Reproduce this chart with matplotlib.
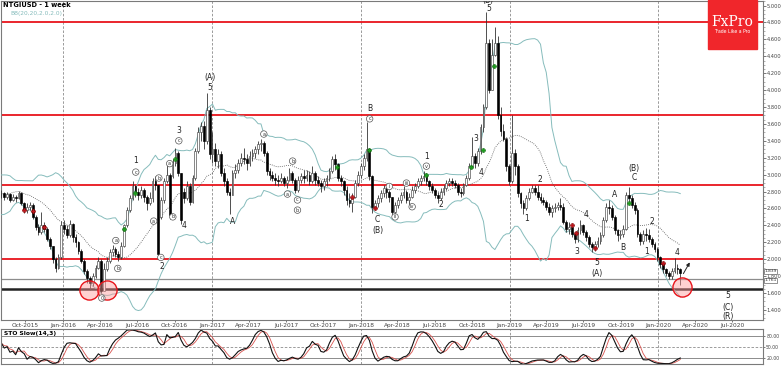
import matplotlib

matplotlib.use("Agg")
import matplotlib.pyplot as plt
import numpy as np
import pandas as pd
from matplotlib.patches import Rectangle

# weekly NTGIUSD candles, first bar = week of 2015-08-03
START = "2015-08-03"

# 19 closes before the first drawn bar, only used to seed the Bollinger bands
PRIOR_CLOSES = [2.70, 2.62, 2.58, 2.50, 2.56, 2.70, 2.86, 2.92, 2.84, 2.80,
                2.90, 2.78, 2.72, 2.80, 2.86, 2.92, 2.78, 2.84, 2.76]

CLOSES = [
    2.78, 2.74, 2.77, 2.70, 2.74, 2.72, 2.78, 2.66, 2.58, 2.62,
    2.64, 2.50, 2.38, 2.32, 2.40, 2.36, 2.24, 2.16, 2.00, 1.90,
    2.02, 2.40, 2.36, 2.28, 2.42, 2.26, 2.20, 2.10, 1.98, 1.86,
    1.78, 1.72, 1.80, 1.90, 1.98, 1.62, 1.88, 1.98, 2.08, 2.12,
    2.06, 2.02, 2.16, 2.40, 2.58, 2.72, 2.86, 2.80, 2.76, 2.82,
    2.74, 2.66, 2.72, 2.92, 2.88, 2.06, 2.70, 2.92, 3.00, 2.52,
    3.14, 3.26, 3.02, 2.46, 2.72, 2.86, 2.68, 2.96, 3.28, 3.50,
    3.58, 3.40, 3.76, 3.24, 3.30, 3.16, 3.24, 3.02, 2.92, 2.80,
    2.76, 3.02, 3.06, 3.14, 3.20, 3.18, 3.14, 3.22, 3.26, 3.30,
    3.36, 3.38, 3.26, 3.04, 3.00, 2.96, 2.94, 2.92, 2.96, 2.90,
    2.94, 3.02, 2.94, 2.82, 2.94, 2.98, 2.96, 3.00, 2.92, 3.02,
    2.94, 2.90, 2.86, 2.92, 2.96, 3.04, 3.18, 3.12, 2.96, 2.92,
    2.82, 2.70, 2.66, 2.74, 2.90, 3.00, 3.10, 3.20, 3.30, 2.98,
    2.62, 2.66, 2.72, 2.78, 2.84, 2.80, 2.74, 2.56, 2.64, 2.70,
    2.76, 2.80, 2.70, 2.74, 2.82, 2.86, 2.92, 2.96, 2.98, 2.92,
    2.86, 2.82, 2.76, 2.72, 2.80, 2.84, 2.90, 2.92, 2.90, 2.88,
    2.80, 2.78, 2.88, 2.96, 3.10, 3.22, 3.14, 3.28, 3.56, 3.80,
    4.56, 4.00, 4.42, 4.56, 3.70, 3.52, 3.42, 3.10, 2.92, 3.26,
    3.10, 2.78, 2.66, 2.60, 2.72, 2.80, 2.84, 2.80, 2.74, 2.70,
    2.68, 2.62, 2.56, 2.60, 2.62, 2.64, 2.62, 2.44, 2.36, 2.38,
    2.30, 2.24, 2.34, 2.40, 2.32, 2.26, 2.18, 2.14, 2.18, 2.22,
    2.28, 2.46, 2.62, 2.60, 2.50, 2.34, 2.28, 2.30, 2.36, 2.76,
    2.72, 2.64, 2.58, 2.30, 2.22, 2.30, 2.28, 2.24, 2.18, 2.12,
    2.02, 1.94, 1.88, 1.84, 1.80, 1.86, 1.90, 1.88, 1.84,
]
HIGHS = [
    2.82, 2.80, 2.80, 2.78, 2.77, 2.76, 2.81, 2.80, 2.68, 2.66,
    2.68, 2.66, 2.52, 2.42, 2.56, 2.44, 2.38, 2.26, 2.16, 2.02,
    2.06, 2.45, 2.46, 2.40, 2.46, 2.43, 2.30, 2.22, 2.12, 2.00,
    1.88, 1.80, 1.84, 1.93, 2.02, 2.00, 1.95, 2.02, 2.12, 2.17,
    2.14, 2.10, 2.20, 2.42, 2.62, 2.76, 2.92, 2.88, 2.84, 2.86,
    2.84, 2.76, 2.80, 2.96, 2.98, 2.88, 2.74, 2.96, 3.14, 3.02,
    3.18, 3.32, 3.28, 3.00, 2.84, 2.92, 2.90, 3.00, 3.32, 3.56,
    3.62, 3.64, 3.97, 3.80, 3.50, 3.38, 3.30, 3.28, 3.08, 2.96,
    2.84, 3.06, 3.12, 3.18, 3.26, 3.32, 3.24, 3.28, 3.30, 3.34,
    3.40, 3.42, 3.40, 3.28, 3.08, 3.04, 3.02, 3.00, 3.02, 2.98,
    2.98, 3.08, 3.04, 2.96, 2.98, 3.02, 3.06, 3.06, 3.04, 3.10,
    3.04, 2.98, 2.94, 2.96, 3.00, 3.08, 3.22, 3.24, 3.14, 3.00,
    2.94, 2.86, 2.78, 2.78, 2.94, 3.04, 3.14, 3.24, 3.62, 3.32,
    3.00, 2.70, 2.76, 2.82, 2.88, 2.86, 2.82, 2.74, 2.68, 2.74,
    2.80, 2.86, 2.82, 2.78, 2.86, 2.90, 2.96, 3.00, 3.04, 3.02,
    2.94, 2.90, 2.84, 2.80, 2.84, 2.88, 2.94, 2.96, 2.96, 2.94,
    2.90, 2.84, 2.90, 3.00, 3.14, 3.44, 3.26, 3.32, 3.60, 3.84,
    4.92, 4.60, 4.60, 4.75, 4.64, 3.80, 3.60, 3.44, 3.12, 3.70,
    3.30, 3.12, 2.80, 2.70, 2.76, 2.84, 2.88, 2.88, 2.88, 2.78,
    2.74, 2.70, 2.66, 2.64, 2.66, 2.68, 2.72, 2.66, 2.46, 2.44,
    2.40, 2.32, 2.38, 2.46, 2.42, 2.34, 2.28, 2.20, 2.22, 2.26,
    2.32, 2.50, 2.66, 2.70, 2.64, 2.52, 2.36, 2.34, 2.40, 2.80,
    2.85, 2.76, 2.68, 2.60, 2.32, 2.34, 2.37, 2.36, 2.26, 2.20,
    2.14, 2.04, 1.96, 1.90, 1.86, 1.90, 2.01, 1.94, 1.90,
]
LOWS = [
    2.72, 2.70, 2.71, 2.68, 2.69, 2.68, 2.71, 2.64, 2.55, 2.55,
    2.58, 2.48, 2.35, 2.28, 2.30, 2.32, 2.22, 2.12, 1.96, 1.85,
    1.88, 2.00, 2.30, 2.25, 2.26, 2.20, 2.14, 2.06, 1.95, 1.82,
    1.72, 1.64, 1.68, 1.78, 1.88, 1.60, 1.62, 1.86, 1.96, 2.04,
    2.02, 1.98, 2.00, 2.14, 2.38, 2.56, 2.70, 2.74, 2.70, 2.72,
    2.68, 2.58, 2.64, 2.68, 2.82, 2.04, 2.48, 2.66, 2.90, 2.48,
    2.96, 3.10, 2.98, 2.42, 2.66, 2.70, 2.64, 2.66, 2.94, 3.26,
    3.40, 3.30, 3.36, 3.18, 3.14, 3.10, 3.08, 2.98, 2.86, 2.76,
    2.54, 2.76, 2.96, 3.02, 3.10, 3.12, 3.06, 3.10, 3.16, 3.20,
    3.24, 3.28, 3.22, 3.00, 2.94, 2.92, 2.88, 2.86, 2.90, 2.86,
    2.84, 2.92, 2.90, 2.78, 2.80, 2.90, 2.90, 2.92, 2.88, 2.90,
    2.88, 2.86, 2.80, 2.82, 2.86, 2.92, 3.02, 3.06, 2.92, 2.86,
    2.76, 2.64, 2.62, 2.56, 2.72, 2.86, 2.96, 3.06, 3.16, 2.94,
    2.55, 2.58, 2.62, 2.68, 2.74, 2.72, 2.68, 2.50, 2.54, 2.60,
    2.66, 2.72, 2.66, 2.64, 2.72, 2.78, 2.84, 2.88, 2.92, 2.88,
    2.82, 2.78, 2.72, 2.66, 2.70, 2.76, 2.82, 2.86, 2.86, 2.84,
    2.76, 2.74, 2.76, 2.86, 2.94, 3.08, 3.08, 3.10, 3.24, 3.50,
    3.78, 3.96, 4.00, 4.40, 3.66, 3.46, 3.40, 3.04, 2.88, 2.90,
    3.00, 2.74, 2.60, 2.54, 2.58, 2.70, 2.78, 2.76, 2.70, 2.66,
    2.64, 2.58, 2.52, 2.50, 2.56, 2.58, 2.58, 2.42, 2.32, 2.30,
    2.26, 2.19, 2.20, 2.30, 2.28, 2.22, 2.14, 2.08, 2.10, 2.14,
    2.18, 2.26, 2.44, 2.54, 2.46, 2.30, 2.22, 2.24, 2.26, 2.34,
    2.66, 2.60, 2.54, 2.26, 2.17, 2.18, 2.22, 2.20, 2.14, 2.08,
    1.98, 1.90, 1.84, 1.80, 1.76, 1.76, 1.84, 1.82, 1.69,
]
# bars that opened with a gap (otherwise open = previous close)
OPEN_GAPS = {56: 2.50, 60: 2.98, 64: 2.80}

RED_LEVELS = [4.80, 3.71, 2.875, 2.00]
GREY_LEVEL = 1.761
BLACK_LEVEL = 1.645
BID = 1.839

# elliott wave marks: (text, week index, price, circled)
WAVE_LABELS = [
    ("1", 47.1, 3.17, False), ("c", 47.1, 3.03, True),
    ("a", 40.1, 2.22, True), ("b", 40.8, 1.89, True), ("0", 35.2, 1.54, True),
    ("a", 53.4, 2.45, True), ("b", 55.2, 2.96, True),
    ("c", 55.9, 2.02, True), ("2", 56.2, 1.91, False),
    ("a", 59.0, 3.13, True), ("b", 60.1, 2.50, True),
    ("c", 62.2, 3.40, True), ("3", 62.2, 3.52, False), ("4", 64.0, 2.40, False),
    ("(A)", 73.0, 4.15, False), ("5", 73.0, 4.03, False), ("A", 81.1, 2.45, False),
    ("a", 92.0, 3.48, True), ("b", 102.1, 3.16, True), ("a", 100.3, 2.77, True),
    ("c", 103.8, 2.70, True), ("b", 103.8, 2.58, True),
    ("B", 129.1, 3.78, False), ("c", 129.1, 3.66, True),
    ("C", 131.9, 2.47, False), ("(B)", 131.9, 2.34, False),
    ("i", 136.0, 2.86, True), ("ii", 138.0, 2.50, True),
    ("iii", 142.0, 2.90, True), ("iv", 144.0, 2.62, True),
    ("1", 149.0, 3.22, False), ("v", 149.0, 3.10, True), ("2", 153.9, 2.65, False),
    ("3", 166.2, 3.43, False), ("4", 168.0, 3.03, False), ("5", 170.7, 4.96, False),
    ("1", 184.0, 2.48, False), ("2", 188.9, 2.94, False),
    ("3", 201.9, 2.09, False), ("4", 205.0, 2.53, False),
    ("5", 208.9, 1.96, False), ("(A)", 208.9, 1.83, False),
    ("A", 214.8, 2.76, False), ("B", 218.0, 2.14, False),
    ("(B)", 221.9, 3.07, False), ("C", 221.9, 2.96, False),
    ("1", 226.1, 2.09, False), ("2", 228.2, 2.44, False), ("4", 236.9, 2.08, False),
    ("5", 254.8, 1.57, False), ("(C)", 254.8, 1.43, False), ("(R)", 254.8, 1.32, False),
]
GREEN_MARKS = [(43, 2.36), (47, 2.78), (61, 3.19), (117.6, 3.09), (128.8, 3.29),
               (148.8, 2.99), (164.7, 3.09), (168.7, 3.29), (172.8, 4.29), (220, 2.66)]
RED_MARKS = [(8, 2.58), (11, 2.57), (15, 2.38), (123, 2.74), (131, 2.60),
             (200, 2.40), (201.5, 2.31), (208, 2.13), (232, 1.96)]
CIRCLES = [(30.8, 1.64), (36.9, 1.64), (238.5, 1.67)]

BAND_COLOR = "#86bcbc"

closes = np.array(CLOSES)
highs = np.array(HIGHS)
lows = np.array(LOWS)
opens = np.r_[closes[0], closes[:-1]]
for k, v in OPEN_GAPS.items():
    opens[k] = v
highs = np.maximum(highs, np.maximum(opens, closes))
lows = np.minimum(lows, np.minimum(opens, closes))
idx = np.arange(len(closes))
start = pd.Timestamp(START)


def week_pos(date):
    return (pd.Timestamp(date) - start).days / 7.0


# Bollinger(20, 2)
full = pd.Series(PRIOR_CLOSES + CLOSES)
mid = full.rolling(20).mean().values[len(PRIOR_CLOSES):]
sd = full.rolling(20).std(ddof=0).values[len(PRIOR_CLOSES):]

# slow stochastic (14, 3)
hh = pd.Series(highs).rolling(14, min_periods=1).max()
ll = pd.Series(lows).rolling(14, min_periods=1).min()
raw = (pd.Series(closes) - ll) / (hh - ll) * 100
k_line = raw.rolling(3, min_periods=1).mean()
d_line = k_line.rolling(3, min_periods=1).mean()

plt.rcParams["font.family"] = ["DejaVu Sans"]
fig = plt.figure(figsize=(7.82, 3.66), dpi=100)
W = 762 / 782
ax = fig.add_axes([1 / 782, 1 - 320 / 366, W, 319.5 / 366])
sto = fig.add_axes([1 / 782, 2 / 366, W, 35 / 366], sharex=ax)

xmin, xmax = -0.14, 267.0
ax.set_xlim(xmin, xmax)
ax.set_ylim(1.28, 5.06)

# year separators
for yr in range(2016, 2021):
    for a in (ax, sto):
        a.axvline(week_pos(f"{yr}-01-01"), color="#8a8a8a", lw=0.6,
                  ls=(0, (3, 2)), zorder=1)

for lvl in RED_LEVELS:
    ax.axhline(lvl, color="#e8141b", lw=1.3, zorder=2)
ax.axhline(GREY_LEVEL, color="#8c8c8c", lw=0.9, zorder=2)
ax.axhline(BLACK_LEVEL, color="#222222", lw=1.8, zorder=2)

# bands
ax.plot(idx, mid + 2 * sd, color=BAND_COLOR, lw=0.7, zorder=3)
ax.plot(idx, mid - 2 * sd, color=BAND_COLOR, lw=0.7, zorder=3)
ax.plot(idx, mid, color="#555555", lw=0.6, ls=(0, (1, 1.5)), zorder=3)

# candles
up = closes >= opens
ax.vlines(idx, lows, highs, color="#333333", lw=0.6, zorder=4)
ax.bar(idx[up], (closes - opens)[up], bottom=opens[up], width=0.62,
       color="white", edgecolor="#444444", lw=0.45, zorder=5)
ax.bar(idx[~up], (opens - closes)[~up], bottom=closes[~up], width=0.62,
       color="black", edgecolor="black", lw=0.45, zorder=5)

gx, gy = zip(*GREEN_MARKS)
ax.plot(gx, gy, ls="none", marker="P", ms=3.2, color="#1e9e1e", mec="#0b6b0b",
        mew=0.3, zorder=6)
rx, ry = zip(*RED_MARKS)
ax.plot(rx, ry, ls="none", marker="P", ms=3.2, color="#c0141b", mec="#7a0000",
        mew=0.3, zorder=6)

cx, cy = zip(*CIRCLES)
ax.scatter(cx, cy, s=190, facecolor=(1, 0.6, 0.6, 0.45), edgecolor="#e8141b",
           lw=1.0, zorder=7)

for text, x, y, circ in WAVE_LABELS:
    if circ:
        ax.text(x, y, text, fontsize=3.6, ha="center", va="center", color="#333333",
                zorder=8, bbox=dict(boxstyle="circle,pad=0.15", fc="white",
                                    ec="#555555", lw=0.5), clip_on=True)
    else:
        ax.text(x, y, text, fontsize=5.5, ha="center", va="center", color="#222222",
                zorder=8, clip_on=True)
ax.text(170.7, 5.065, "(B)", fontsize=5.5, ha="center", va="center", clip_on=True,
        color="#222222")

ax.annotate("", xy=(241.8, 1.99), xytext=(238.6, 1.80),
            arrowprops=dict(arrowstyle="-|>", color="#222222", lw=0.7,
                            mutation_scale=5), zorder=9)

# axes styling
for a in (ax, sto):
    for s in a.spines.values():
        s.set_color("#7a7a7a")
        s.set_linewidth(0.8)
ax.yaxis.tick_right()
ax.set_yticks(np.arange(1.4, 5.01, 0.2))
ax.set_yticklabels([f"{v:.3f}" for v in np.arange(1.4, 5.01, 0.2)])
ax.set_yticks(np.arange(1.30, 5.06, 0.05), minor=True)
ax.tick_params(axis="y", which="major", labelsize=3.7, length=2.0, width=0.5,
               pad=0.8, colors="#444444")
ax.tick_params(axis="y", which="minor", length=1.2, width=0.4, colors="#777777")

months = pd.date_range("2015-10-01", "2020-07-01", freq="QS")
ax.set_xticks([week_pos(m) for m in months])
ax.set_xticklabels([m.strftime("%b-%Y") for m in months])
ax.tick_params(axis="x", labelsize=4.2, length=1.5, width=0.5, pad=1,
               colors="#444444")
plt.setp(sto.get_xticklabels(), visible=False)
sto.tick_params(axis="x", length=0)

# stochastic panel
sto.set_ylim(3, 99)
for lvl in (80, 20):
    sto.axhline(lvl, color="#8c8c8c", lw=0.7)
sto.axhline(50, color="#8c8c8c", lw=0.6, ls=(0, (3, 2)))
sto.plot(idx, d_line, color="#d9534f", lw=0.6)
sto.plot(idx, k_line, color="#111111", lw=0.8)
sto.yaxis.tick_right()
sto.set_yticks([80, 50, 20])
sto.set_yticklabels(["80.00", "50.00", "20.00"])
sto.tick_params(axis="y", labelsize=3.3, length=1.5, width=0.5, pad=0.8,
                colors="#444444")
sto.text(0.004, 0.93, "STO Slow(14,3)", transform=sto.transAxes, fontsize=4.3,
         fontweight="bold", va="top", ha="left")

# header texts
fig.text(3 / 782, 1 - 5 / 366, "NTGIUSD - 1 week", fontsize=4.8, fontweight="bold",
         va="center", ha="left")
fig.text(10 / 782, 1 - 13 / 366, "BB(20,20,2.0,2.0)", fontsize=4.2, color=BAND_COLOR,
         va="center", ha="left")

# price boxes on the right
for val, dy in ((BID, 0.02), (GREY_LEVEL, -0.01)):
    ax.text(1.002, val + dy, f"{val:.3f}", transform=ax.get_yaxis_transform(),
            fontsize=3.2, va="center", ha="left", color="#333333",
            bbox=dict(boxstyle="square,pad=0.12", fc="white", ec="#666666", lw=0.5),
            clip_on=False)

# logo
fig.patches.append(Rectangle((708 / 782, 1 - 49 / 366), 49 / 782, 49 / 366,
                             transform=fig.transFigure, color="#f0262b", zorder=10))
fig.text(732.5 / 782, 1 - 22 / 366, "FxPro", fontsize=10, color="white",
         family="DejaVu Serif", ha="center", va="center", zorder=11)
fig.text(732.5 / 782, 1 - 31.5 / 366, "Trade Like a Pro", fontsize=3.3, color="white",
         ha="center", va="center", zorder=11)

fig.savefig("out.png", dpi=100)
